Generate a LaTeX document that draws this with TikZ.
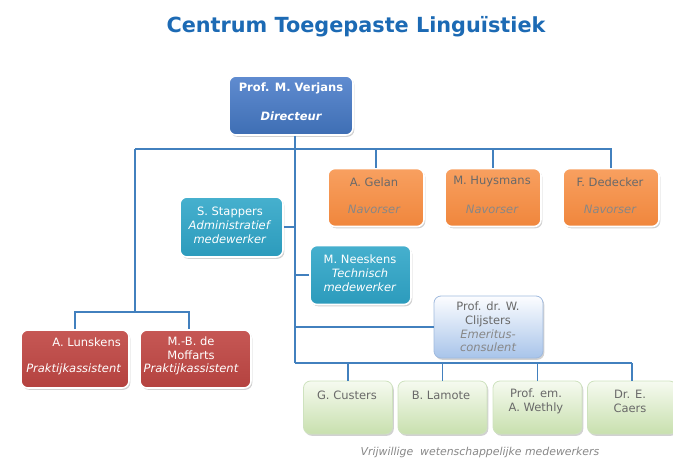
\documentclass[tikz,border=0pt]{standalone}
\usepackage{fontspec}
\setmainfont{DejaVu Sans}
\usetikzlibrary{shadows}
\definecolor{titleblue}{RGB}{28,106,180}
\definecolor{conn}{RGB}{66,128,190}
\definecolor{dirtop}{RGB}{96,140,208}
\definecolor{dirbot}{RGB}{62,110,180}
\definecolor{ortop}{RGB}{248,160,96}
\definecolor{orbot}{RGB}{240,134,60}
\definecolor{cytop}{RGB}{70,176,206}
\definecolor{cybot}{RGB}{44,155,188}
\definecolor{rdtop}{RGB}{198,88,85}
\definecolor{rdbot}{RGB}{180,66,63}
\definecolor{cltop}{RGB}{252,253,255}
\definecolor{clbot}{RGB}{168,196,234}
\definecolor{clborder}{RGB}{160,186,222}
\definecolor{grtop}{RGB}{246,250,240}
\definecolor{grbot}{RGB}{200,224,174}
\definecolor{grborder}{RGB}{206,226,190}
\definecolor{txtgray}{RGB}{105,105,105}
\definecolor{txtlight}{RGB}{135,135,135}
\begin{document}
\begin{tikzpicture}[x=1pt,y=-1pt,
  conn/.style={draw=conn, line width=1.3pt},
  box/.style={rectangle, rounded corners=7pt, inner sep=0pt,
    drop shadow={shadow xshift=1.3pt, shadow yshift=-1.8pt, opacity=0.3, fill=black!60}},
  dirbox/.style={box, draw=white, line width=1.6pt, top color=dirtop, bottom color=dirbot},
  orbox/.style={box, draw=white, line width=1.6pt, top color=ortop, bottom color=orbot, minimum width=96pt, minimum height=58pt},
  cybox/.style={box, draw=white, line width=1.6pt, top color=cytop, bottom color=cybot},
  rdbox/.style={box, draw=white, line width=1.6pt, top color=rdtop, bottom color=rdbot, minimum height=58pt},
  clbox/.style={box, draw=clborder, line width=0.8pt, top color=cltop, bottom color=clbot},
  grbox/.style={box, draw=grborder, line width=0.8pt, top color=grtop, bottom color=grbot, minimum width=89pt, minimum height=53pt},
  txt/.style={inner sep=0pt, font=\fontsize{11.5}{14}\selectfont, align=center},
  wtxt/.style={txt, text=white},
  gtxt/.style={txt, text=txtgray},
  ltxt/.style={txt, text=txtlight, font=\fontsize{11.5}{14}\selectfont\itshape},
  title/.style={inner sep=0pt, text=titleblue, font=\fontsize{20.8}{24}\selectfont\bfseries}
]
\useasboundingbox (0,0) rectangle (673,458);

\node[title] (title) at (356,27) {Centrum Toegepaste Linguïstiek};

% connector coordinates
\coordinate (topL) at (135,149);
\coordinate (topR) at (612,149);
\coordinate (trunkB) at (295,363);
\coordinate (leftB) at (135,312);
\coordinate (moffdrop) at (189,312);
\coordinate (botR) at (632,363);

% boxes
\node[dirbox, minimum width=124pt, minimum height=59pt] (dir) at (291,105.5) {};
\node[orbox] (gelan) at (376,197.5) {};
\node[orbox] (huys) at (493,197.5) {};
\node[orbox] (dede) at (611,197.5) {};
\node[cybox, minimum width=103pt, minimum height=60pt] (stap) at (231.5,227) {};
\node[cybox, minimum width=101pt, minimum height=59pt] (nees) at (360.5,275) {};
\node[clbox, minimum width=109pt, minimum height=62pt] (clij) at (488.5,327) {};
\node[rdbox, minimum width=108pt] (luns) at (75,359) {};
\node[rdbox, minimum width=111pt] (moff) at (195.5,359) {};
\node[grbox] (cust) at (348,407.5) {};
\node[grbox] (lamo) at (442.5,407.5) {};
\node[grbox] (weth) at (537.5,407.5) {};
\node[grbox] (caer) at (632,407.5) {};

% connectors
\begin{scope}[on background layer/.try]
\end{scope}
\draw[conn] ([xshift=4pt]dir.south) -- (trunkB);
\draw[conn] (topL) -- (topR);
\draw[conn] (topL) -- (leftB);
\draw[conn] (luns.north) -- (luns.north |- leftB) -- (moffdrop) -- (moffdrop |- moff.north);
\draw[conn] (gelan.north) -- (gelan.north |- topL);
\draw[conn] (huys.north) -- (huys.north |- topL);
\draw[conn] (dede.north) -- (dede.north |- topL);
\draw[conn] (stap.east) -- (stap.east -| trunkB);
\draw[conn] (nees.west) -- (nees.west -| trunkB);
\draw[conn] (clij.west) -- (clij.west -| trunkB);
\draw[conn] (trunkB) -- (botR);
\draw[conn] (cust.north) -- (cust.north |- trunkB);
\draw[conn] (lamo.north) -- (lamo.north |- trunkB);
\draw[conn] (weth.north) -- (weth.north |- trunkB);
\draw[conn] (caer.north) -- (caer.north |- trunkB);

% texts
\node[wtxt, font=\fontsize{11.5}{14}\selectfont\bfseries] (dirname) at (291,88) {Prof. M. Verjans};
\node[wtxt, font=\fontsize{11.5}{14}\selectfont\bfseries\itshape] (dirrole) at (291,116) {Directeur};

\node[gtxt] (gelanname) at (374,182) {A. Gelan};
\node[ltxt] (gelanrole) at (374,209) {Navorser};
\node[gtxt] (huysname) at (492,182) {M. Huysmans};
\node[ltxt] (huysrole) at (492,209) {Navorser};
\node[gtxt] (dedename) at (610,182) {F. Dedecker};
\node[ltxt] (dederole) at (610,209) {Navorser};

\node[wtxt] (staptxt) at (230,225) {S. Stappers\\ \textit{Administratief}\\ \textit{medewerker}};
\node[wtxt] (neestxt) at (360,273) {M. Neeskens\\ \textit{Technisch}\\ \textit{medewerker}};
\node[gtxt, font=\fontsize{11.5}{13.7}\selectfont] (clijtxt) at (488,327) {Prof. dr. W.\\ Clijsters\\ \textcolor{txtlight}{\itshape Emeritus-}\\ \textcolor{txtlight}{\itshape consulent}};

\node[wtxt, anchor=east] (lunsname) at (121,342) {A. Lunskens};
\node[wtxt, anchor=east, font=\fontsize{11.5}{14}\selectfont\itshape] (lunsrole) at (121,369) {Praktijkassistent};
\node[wtxt] (moffname) at (191,348) {M.-B. de\\ Moffarts};
\node[wtxt, font=\fontsize{11.5}{14}\selectfont\itshape] (moffrole) at (191,369.5) {Praktijkassistent};

\node[gtxt] (custtxt) at (347,395) {G. Custers};
\node[gtxt] (lamotxt) at (441,395) {B. Lamote};
\node[gtxt] (wethtxt) at (536,401.5) {Prof. em.\\ A. Wethly};
\node[gtxt] (caertxt) at (630,401.5) {Dr. E.\\ Caers};

\node[ltxt, font=\fontsize{10.9}{13}\selectfont\itshape] (caption) at (480,452) {Vrijwillige~ wetenschappelijke medewerkers};
\end{tikzpicture}
\end{document}
